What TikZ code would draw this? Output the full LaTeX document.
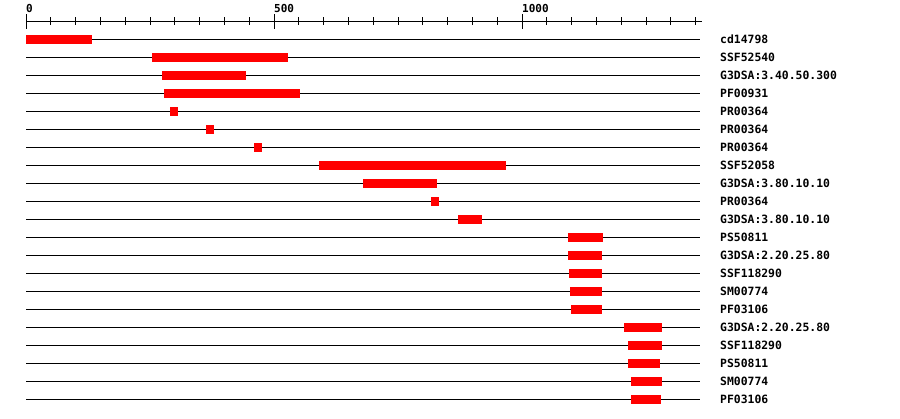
\documentclass[tikz,border=0pt]{standalone}
\usepackage{fontspec}
\setmonofont{DejaVu Sans Mono}

\tikzset{
    track/.style={black, line width=1pt},
    hit/.style={fill=red, draw=none},
    tag/.style={anchor=base west, inner sep=0pt, font=\ttfamily\bfseries\fontsize{11.4}{13}\selectfont},
    scalelab/.style={anchor=base west, inner sep=0pt, font=\ttfamily\bfseries\fontsize{11}{13}\selectfont}
}

\begin{document}
\begin{tikzpicture}[x=1pt, y=-1pt]
    \useasboundingbox (0,0) rectangle (900,418);
    % scale
    \coordinate (s0) at (26,21);
    \coordinate (s1) at (702,21);
    \draw[track] (s0) -- (s1);
    \foreach \t in {1,...,27}
        \draw[track] ([xshift=\t*24.8pt]s0) ++(0,-4) -- ++(0,8);
    \foreach \t/\lab in {0/0, 10/500, 20/1000} {
        \draw[track] ([xshift=\t*24.8pt]s0) ++(0,-7) -- ++(0,15);
        \node[scalelab] (lab\lab) at ([xshift=\t*24.8pt, yshift=9pt]s0) {\lab};
    }
    % hits
    \foreach \a/\b/\name [count=\i] in {
            26/92/cd14798,
            152/288/SSF52540,
            162/246/G3DSA:3.40.50.300,
            164/300/PF00931,
            170/178/PR00364,
            206/214/PR00364,
            254/262/PR00364,
            319/506/SSF52058,
            363/437/G3DSA:3.80.10.10,
            431/439/PR00364,
            458/482/G3DSA:3.80.10.10,
            568/603/PS50811,
            568/602/G3DSA:2.20.25.80,
            569/602/SSF118290,
            570/602/SM00774,
            571/602/PF03106,
            624/662/G3DSA:2.20.25.80,
            628/662/SSF118290,
            628/660/PS50811,
            631/662/SM00774,
            631/661/PF03106} {
        \coordinate (r\i) at (26,21+18*\i);
        \coordinate (e\i) at (700,21+18*\i);
        \draw[track] (r\i) -- (e\i);
        \fill[hit] (\a,17+18*\i) rectangle (\b,26+18*\i);
        \node[tag] (n\i) at ([xshift=20pt, yshift=-4pt]e\i) {\name};
    }
\end{tikzpicture}
\end{document}
